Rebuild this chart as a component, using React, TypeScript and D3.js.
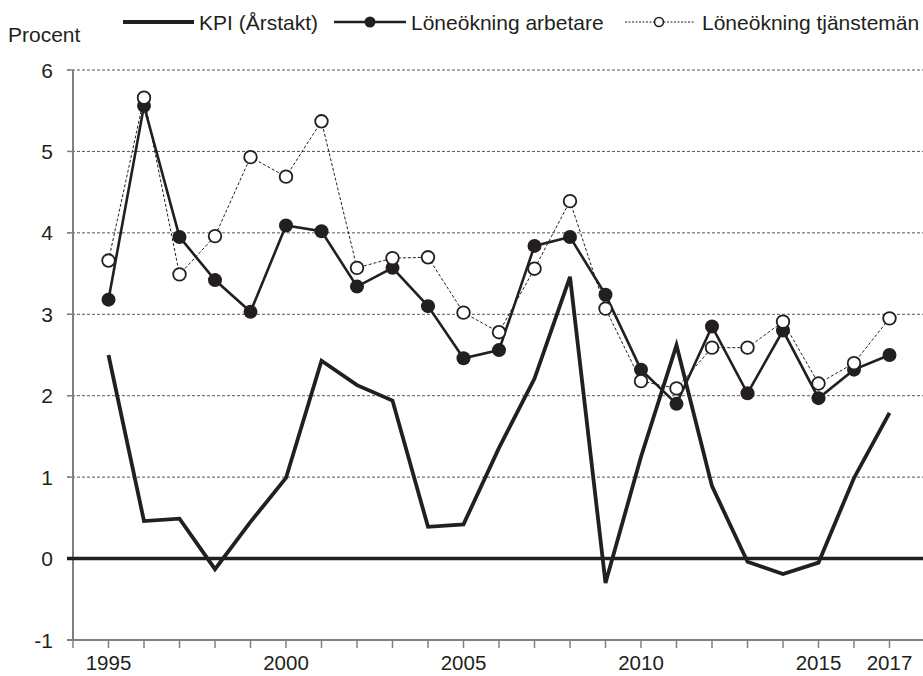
import * as d3 from 'd3';

const years = d3.range(1995, 2018);

const kpi = [
  2.5, 0.46, 0.49, -0.13, 0.45, 0.99, 2.43, 2.13, 1.94, 0.39, 0.42, 1.36,
  2.21, 3.46, -0.3, 1.25, 2.62, 0.89, -0.04, -0.19, -0.05, 0.99, 1.79,
];

const arbetare = [
  3.18, 5.56, 3.95, 3.42, 3.03, 4.09, 4.02, 3.34, 3.57, 3.1, 2.46, 2.56,
  3.84, 3.95, 3.24, 2.32, 1.9, 2.85, 2.03, 2.8, 1.97, 2.32, 2.5,
];

const tjansteman = [
  3.66, 5.66, 3.49, 3.96, 4.93, 4.69, 5.37, 3.57, 3.69, 3.7, 3.02, 2.78,
  3.56, 4.39, 3.07, 2.18, 2.09, 2.59, 2.59, 2.91, 2.15, 2.4, 2.95,
];

const yTicks = [-1, 0, 1, 2, 3, 4, 5, 6];
const xLabels = [1995, 2000, 2005, 2010, 2015, 2017];

const W = 923;
const H = 676;
const INK = '#231f20';
const FONT = 'Liberation Sans, Arial, sans-serif';

export default function App() {
  const x = d3.scaleLinear().domain([1994, 2018]).range([73, 925]);
  const y = d3.scaleLinear().domain([-1, 6]).range([640, 70]);

  const line = (vals: number[]) =>
    d3
      .line<number>()
      .x((_, i) => x(years[i]))
      .y((d) => y(d))(vals) || '';

  return (
    <svg
      width={W}
      height={H}
      style={{ position: 'absolute', left: 0, top: 0, background: '#fff' }}
      fontFamily={FONT}
    >
      {/* gridlines */}
      {yTicks
        .filter((t) => t > 0)
        .map((t) => (
          <line
            key={t}
            x1={67}
            x2={W}
            y1={y(t)}
            y2={y(t)}
            stroke="#555"
            strokeWidth={1}
            strokeDasharray="3,2"
          />
        ))}

      {/* axes */}
      <line x1={73} x2={73} y1={y(6)} y2={y(-1)} stroke="#808080" strokeWidth={2} />
      <line x1={67} x2={W} y1={y(-1)} y2={y(-1)} stroke="#808080" strokeWidth={2} />
      {yTicks.map((t) => (
        <g key={t}>
          <line x1={67} x2={73} y1={y(t)} y2={y(t)} stroke="#808080" strokeWidth={1.5} />
          <text x={53} y={y(t)} dy="0.36em" textAnchor="end" fontSize={21} fill={INK}>
            {t}
          </text>
        </g>
      ))}
      {d3.range(1994, 2018).map((yr) => (
        <line
          key={yr}
          x1={x(yr)}
          x2={x(yr)}
          y1={y(-1)}
          y2={y(-1) + 8}
          stroke="#808080"
          strokeWidth={1.5}
        />
      ))}
      {xLabels.map((yr) => (
        <text key={yr} x={x(yr)} y={670} textAnchor="middle" fontSize={20.5} fill={INK}>
          {yr}
        </text>
      ))}

      {/* zero line */}
      <line x1={67} x2={W} y1={y(0)} y2={y(0)} stroke={INK} strokeWidth={3.5} />

      {/* KPI */}
      <path d={line(kpi)} fill="none" stroke={INK} strokeWidth={3.8} strokeLinejoin="miter" />

      {/* arbetare */}
      <path d={line(arbetare)} fill="none" stroke={INK} strokeWidth={2.6} />
      {arbetare.map((v, i) => (
        <circle key={i} cx={x(years[i])} cy={y(v)} r={7} fill={INK} />
      ))}

      {/* tjänstemän */}
      <path d={line(tjansteman)} fill="none" stroke={INK} strokeWidth={1} strokeDasharray="3,2" />
      {tjansteman.map((v, i) => (
        <circle
          key={i}
          cx={x(years[i])}
          cy={y(v)}
          r={6.3}
          fill="#fff"
          stroke={INK}
          strokeWidth={1.8}
        />
      ))}

      {/* legend */}
      <text x={8} y={42} fontSize={21} fill={INK}>
        Procent
      </text>
      <line x1={123} x2={194} y1={22} y2={22} stroke={INK} strokeWidth={3.8} />
      <text x={199} y={22} dy="0.36em" fontSize={21} fill={INK}>
        KPI (Årstakt)
      </text>
      <line x1={334} x2={406} y1={22} y2={22} stroke={INK} strokeWidth={2.6} />
      <circle cx={370} cy={22} r={5.5} fill={INK} />
      <text x={411} y={22} dy="0.36em" fontSize={21} fill={INK}>
        Löneökning arbetare
      </text>
      <line x1={625} x2={695} y1={22} y2={22} stroke={INK} strokeWidth={1} strokeDasharray="2,1.5" />
      <circle cx={659} cy={22} r={4.5} fill="#fff" stroke={INK} strokeWidth={1.6} />
      <text x={702} y={22} dy="0.36em" fontSize={21} fill={INK}>
        Löneökning tjänstemän
      </text>
    </svg>
  );
}
